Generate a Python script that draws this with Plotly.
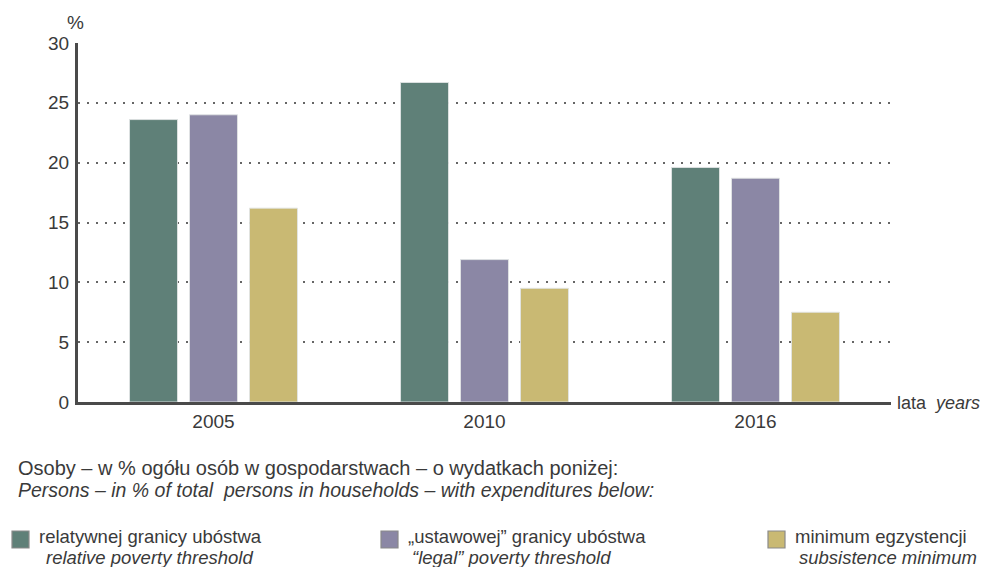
import plotly.graph_objects as go

years = ["2005", "2010", "2016"]
relative = [23.6, 26.7, 19.6]
legal = [24.0, 11.9, 18.7]
subsistence = [16.2, 9.5, 7.5]
series_pl = ["relatywnej granicy ubóstwa", "„ustawowej” granicy ubóstwa", "minimum egzystencji"]
series_en = ["relative poverty threshold", "“legal” poverty threshold", "subsistence minimum"]
colors = ["#5f8078", "#8b87a5", "#c9b973"]
y_ticks = [0, 5, 10, 15, 20, 25, 30]

FONT = "Liberation Sans, Arial, sans-serif"
TXT = "#3a3a3a"

# plot area in page pixels: x 78..891, y 43..402 (page has 8px body offset)
PX0, PX1, PY0, PY1 = 78, 891, 43, 402


def xp(X):
    return (X - PX0) / (PX1 - PX0)


def yp(Y):
    return (PY1 - Y) / (PY1 - PY0)


fig = go.Figure()
for vals, name, col in zip([relative, legal, subsistence], series_pl, colors):
    fig.add_trace(go.Bar(
        x=years, y=vals, name=name,
        marker=dict(color=col, line=dict(color="rgba(225,228,228,0.9)", width=1)),
        showlegend=False,
    ))

fig.update_layout(
    width=991, height=567,
    margin=dict(l=PX0 - 8, r=991 - (PX1 - 8), t=PY0 - 8, b=567 - (PY1 - 8)),
    paper_bgcolor="white", plot_bgcolor="white",
    barmode="group", bargap=0.336, bargroupgap=0.2,
    font=dict(family=FONT, size=19, color=TXT),
    xaxis=dict(
        range=[-0.5, 2.5], showline=True, linecolor="#4a4a4a", linewidth=2.5,
        showgrid=False, ticks="", ticklabelstandoff=0,
        tickfont=dict(size=19, color=TXT),
    ),
    yaxis=dict(
        range=[0, 30], tickvals=y_ticks, showline=True, linecolor="#4a4a4a", linewidth=3,
        showgrid=True, gridcolor="#666666", gridwidth=1.5, griddash="2px,7px",
        zeroline=False, ticks="", ticklabelstandoff=2,
        tickfont=dict(size=19, color=TXT),
    ),
)

ann = []


def add_text(text, X, Y, size=19, anchor="left"):
    ann.append(dict(text=text, x=xp(X), y=yp(Y), xref="paper", yref="paper",
                    showarrow=False, xanchor=anchor, yanchor="middle",
                    font=dict(size=size, color=TXT)))


add_text("%", 75, 22, anchor="center")
add_text("lata  <i>years</i>", 895, 403, size=18)
add_text("Osoby – w % ogółu osób w gospodarstwach – o wydatkach poniżej:", 16, 468, size=20)
add_text("<i>Persons – in % of total  persons in households – with expenditures below:</i>", 16, 490, size=19.5)

leg_x = [12, 381, 768]
line2_dx = [32, 29, 29]
shapes = []
for i in range(3):
    x0 = leg_x[i]
    shapes.append(dict(type="rect", xref="paper", yref="paper",
                       x0=xp(x0), x1=xp(x0 + 17), y0=yp(548), y1=yp(531),
                       fillcolor=colors[i], line=dict(color="#8a8a8a", width=1.2)))
    add_text(series_pl[i], x0 + 25, 536, size=18.5)
    add_text("<i>" + series_en[i] + "</i>", x0 + line2_dx[i], 557, size=18.5)

fig.update_layout(annotations=ann, shapes=shapes)

fig.write_html("out.html")
